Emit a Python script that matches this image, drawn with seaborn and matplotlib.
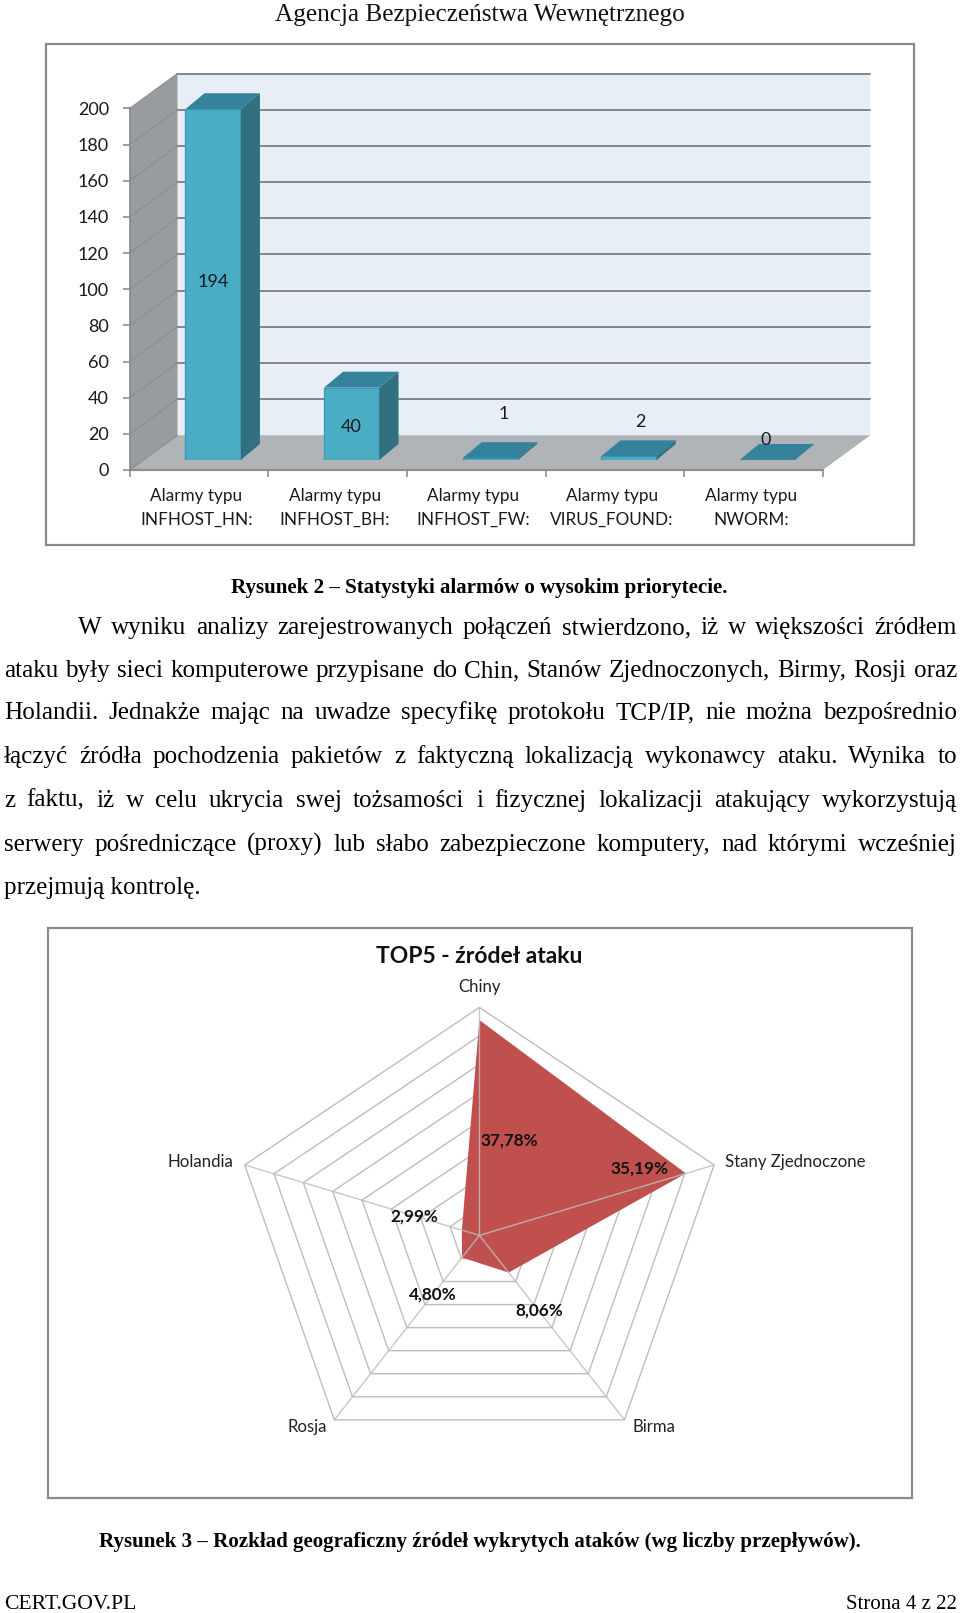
import numpy as np
import pandas as pd
import seaborn as sns
import matplotlib
matplotlib.use('Agg')
import matplotlib.pyplot as plt
from matplotlib.patches import Rectangle

# ==================== DATA ====================
alarm_types = ['Alarmy typu\nINFHOST_HN:', 'Alarmy typu\nINFHOST_BH:', 'Alarmy typu\nINFHOST_FW:',
               'Alarmy typu\nVIRUS_FOUND:', 'Alarmy typu\nNWORM:']
alarm_counts = [194, 40, 1, 2, 0]
alarm_ticks = [0, 20, 40, 60, 80, 100, 120, 140, 160, 180, 200]

countries = ['Chiny', 'Stany Zjednoczone', 'Birma', 'Rosja', 'Holandia']
country_share = [37.78, 35.19, 8.06, 4.80, 2.99]
share_labels = ['37,78%', '35,19%', '8,06%', '4,80%', '2,99%']
ring_values = [5, 10, 15, 20, 25, 30, 35, 40]

header = 'Agencja Bezpieczeństwa Wewnętrznego'
caption_2 = 'Rysunek 2 – Statystyki alarmów o wysokim priorytecie.'
caption_3 = 'Rysunek 3 – Rozkład geograficzny źródeł wykrytych ataków (wg liczby przepływów).'
title_3 = 'TOP5 - źródeł ataku'
body_lines = [
    'W wyniku analizy zarejestrowanych połączeń stwierdzono, iż w większości źródłem',
    'ataku były sieci komputerowe przypisane do Chin, Stanów Zjednoczonych, Birmy, Rosji oraz',
    'Holandii. Jednakże mając na uwadze specyfikę protokołu TCP/IP, nie można bezpośrednio',
    'łączyć źródła pochodzenia pakietów z faktyczną lokalizacją wykonawcy ataku. Wynika to',
    'z faktu, iż w celu ukrycia swej tożsamości i fizycznej lokalizacji atakujący wykorzystują',
    'serwery pośredniczące (proxy) lub słabo zabezpieczone komputery, nad którymi wcześniej',
]
last_line = 'przejmują kontrolę.'
footer_left = 'CERT.GOV.PL'
footer_right = 'Strona 4 z 22'

# ==================== LAYOUT ====================
W, H = 960, 1613
sns.set_theme(style='white')
plt.rcParams['font.family'] = ['Lato', 'DejaVu Sans']
SERIF = ['Liberation Serif', 'DejaVu Serif']

fig = plt.figure(figsize=(W / 100, H / 100), dpi=100, facecolor='white')


def add_ax(x0, y0, x1, y1, **kw):
    # rectangle given in image pixels, y going down
    return fig.add_axes([x0 / W, 1 - y1 / H, (x1 - x0) / W, (y1 - y0) / H], **kw)


page = add_ax(0, 0, W, H, zorder=10)
page.set_xlim(0, W)
page.set_ylim(H, 0)
page.axis('off')

for box in [(45.6, 43.5, 914, 545), (48.4, 928, 911.5, 1498)]:
    page.add_patch(Rectangle((box[0], box[1]), box[2] - box[0], box[3] - box[1],
                             fill=False, ec='#8a8a8a', lw=1.6))

# ==================== BAR CHART (fake 3D like the Excel one) ====================
ax = add_ax(129.8, 108.4, 822.8, 470, zorder=1)
ax.set_xlim(-0.5, 4.5)
ax.set_ylim(0, 200)
ax.patch.set_visible(False)
for s in ax.spines.values():
    s.set_visible(False)

WALL_DX, WALL_DY = 0.344, 19.25
GRID = '#83868a'
x_l, x_r = -0.5, 4.5
ax.fill([x_l + WALL_DX, x_r + WALL_DX, x_r + WALL_DX, x_l + WALL_DX],
        [WALL_DY, WALL_DY, 200 + WALL_DY, 200 + WALL_DY], color='#e8eef6', lw=0, clip_on=False, zorder=1)
ax.fill([x_l, x_l + WALL_DX, x_l + WALL_DX, x_l], [0, WALL_DY, 200 + WALL_DY, 200], color='#989ba0',
        lw=0, clip_on=False, zorder=1)
ax.fill([x_l, x_l + WALL_DX, x_r + WALL_DX, x_r], [0, WALL_DY, WALL_DY, 0], color='#b1b4b7',
        lw=0, clip_on=False, zorder=1)
for v in alarm_ticks:
    if v > 0:
        ax.plot([x_l + WALL_DX, x_r + WALL_DX], [v + WALL_DY, v + WALL_DY], color=GRID, lw=1.4,
                clip_on=False, zorder=2)
    ax.plot([x_l, x_l + WALL_DX], [v, v + WALL_DY], color='#8b8e92', lw=0.9, clip_on=False, zorder=2)
ax.plot([x_l, x_r], [0, 0], color='#8b8d90', lw=1.6, clip_on=False, zorder=3)
ax.plot([x_l, x_l], [0, 200], color='#85888c', lw=1.2, clip_on=False, zorder=3)

ax.set_yticks(alarm_ticks)
ax.set_xticks(np.arange(-0.5, 5))
ax.set_xticklabels([])
ax.set_xticks(np.arange(5) - 0.02, labels=alarm_types, minor=True)
ax.tick_params(axis='y', which='major', left=True, length=5, width=1.1, color=GRID, pad=10,
               labelsize=13, labelcolor='#1a1a1a')
ax.tick_params(axis='x', which='major', bottom=True, length=5, width=1.1, color=GRID)
ax.tick_params(axis='x', which='minor', bottom=False, pad=9, labelsize=12.3, labelcolor='#1a1a1a')
for lab in ax.get_xticklabels(minor=True):
    lab.set_linespacing(1.6)

# bars live on a plane shifted back into the floor
ax_bar = add_ax(143.8, 98.3, 836.8, 459.9, zorder=2)
ax_bar.patch.set_visible(False)
bar_df = pd.DataFrame({'typ': alarm_types, 'n': alarm_counts})
sns.barplot(data=bar_df, x='typ', y='n', ax=ax_bar, color='#4bacc6', saturation=1, width=0.4,
            edgecolor='#3b9ab5', linewidth=1)
ax_bar.set_xlim(-0.5, 4.5)
ax_bar.set_ylim(0, 200)
ax_bar.axis('off')

BAR_DX, BAR_DY = 0.138, 8.8
for p in ax_bar.patches:
    x0, x1 = p.get_x(), p.get_x() + p.get_width()
    top = p.get_height()
    ax_bar.fill([x0, x0 + BAR_DX, x1 + BAR_DX, x1], [top, top + BAR_DY, top + BAR_DY, top],
                color='#35829c', lw=0, clip_on=False)
    ax_bar.fill([x1, x1 + BAR_DX, x1 + BAR_DX, x1], [0, BAR_DY, top + BAR_DY, top],
                color='#31707f', lw=0, clip_on=False)

# (dx, y) of the data labels, they do not sit on the bars in the original
label_place = [(0, 98.4), (-0.005, 18.4), (0.094, 25.2), (0.08, 21), (-0.014, 11)]
for i, (cnt, pl) in enumerate(zip(alarm_counts, label_place)):
    ax_bar.text(i + pl[0], pl[1], str(cnt), ha='center', va='center', fontsize=13, color='#1a1a1a',
                clip_on=False, zorder=5)

# ==================== RADAR ====================
cx, cy, rx, ry = 479.4, 1235.4, 246.8, 228
ax_r = add_ax(cx - rx, cy - ry, cx + rx, cy + ry, zorder=1)
ax_r.set_xlim(-40, 40)
ax_r.set_ylim(-40, 40)
ax_r.axis('off')

angles = np.deg2rad(90 - 72 * np.arange(5))
ring_x = np.cos(angles)
ring_y = np.sin(angles)
RING = '#bdbdbd'
for r in ring_values:
    sns.lineplot(x=np.append(ring_x, ring_x[0]) * r, y=np.append(ring_y, ring_y[0]) * r, ax=ax_r,
                 sort=False, estimator=None, color=RING, lw=1.0, zorder=1)
share = np.array(country_share)
ax_r.fill(ring_x * share, ring_y * share, color='#c0504d', lw=0, zorder=2)
for a, b in zip(ring_x, ring_y):
    sns.lineplot(x=[0, a * 40], y=[0, b * 40], ax=ax_r, sort=False, estimator=None,
                 color=RING, lw=1.0, alpha=0.85, zorder=3)

page.text(479.4, 956.5, title_3, ha='center', va='center', fontsize=16.5, fontweight='bold', color='#111111')
country_px = [(479.4, 987), (795.3, 1161.6), (653.9, 1427.3), (307.7, 1427.3), (200.5, 1161.6)]
for name, (px, py) in zip(countries, country_px):
    page.text(px, py, name, ha='center', va='center', fontsize=12.1, color='#222222')
share_px = [(509.1, 1140.2), (639.3, 1168.4), (538.9, 1310.3), (432.8, 1294.9), (414.3, 1216.6)]
for lab, (px, py) in zip(share_labels, share_px):
    page.text(px, py, lab, ha='center', va='center', fontsize=12.3, fontweight='bold', color='#111111')

# ==================== PAGE TEXT ====================
renderer = fig.canvas.get_renderer()
BODY = 18.1


def justify(line, x0, x1, y):
    words = [page.text(0, y, w, family=SERIF, fontsize=BODY, color='black', va='baseline') for w in line.split()]
    widths = [t.get_window_extent(renderer).width for t in words]
    gap = (x1 - x0 - sum(widths)) / (len(words) - 1)
    x = x0
    for t, w in zip(words, widths):
        t.set_x(x)
        x += w + gap


base_y = [634, 677, 719, 763, 806.7, 850.7]
for i, (line, y) in enumerate(zip(body_lines, base_y)):
    justify(line, 78 if i == 0 else 4, 957, y)
page.text(4, 894, last_line, family=SERIF, fontsize=BODY, color='black', va='baseline')

page.text(479.5, 21.5, header, family=SERIF, fontsize=18.2, color='#111111', ha='center', va='baseline')
page.text(479.5, 593, caption_2, family=SERIF, fontsize=15.1, fontweight='bold', color='black', ha='center', va='baseline')
page.text(480, 1546.5, caption_3, family=SERIF, fontsize=15.1, fontweight='bold', color='black', ha='center', va='baseline')
page.text(4, 1609, footer_left, family=SERIF, fontsize=15.6, color='black', va='baseline')
page.text(957, 1609, footer_right, family=SERIF, fontsize=15, color='black', ha='right', va='baseline')

fig.savefig('out.png', dpi=100)
